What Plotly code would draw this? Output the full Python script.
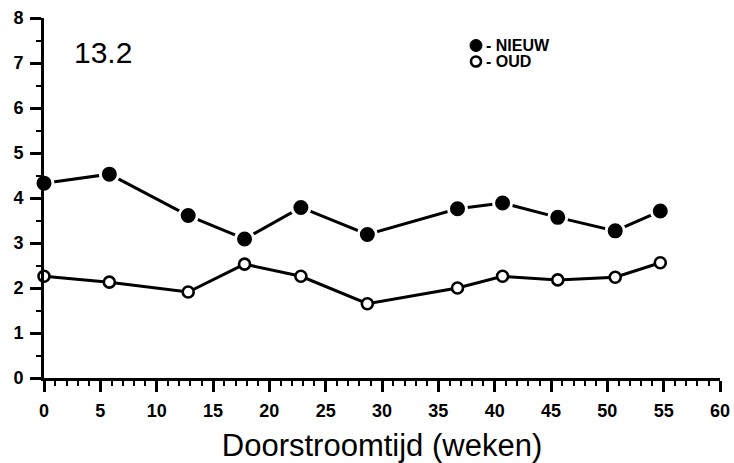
import plotly.graph_objects as go

weeks = [0, 5.8, 12.8, 17.8, 22.8, 28.7, 36.7, 40.7, 45.6, 50.7, 54.7]
nieuw = [4.33, 4.53, 3.61, 3.09, 3.79, 3.19, 3.76, 3.89, 3.57, 3.27, 3.71]
oud = [2.26, 2.13, 1.91, 2.53, 2.26, 1.65, 2.0, 2.26, 2.18, 2.24, 2.56]
x_ticks = list(range(0, 61, 5))
y_ticks = list(range(0, 9))
panel_label = "13.2"
x_title = "Doorstroomtijd (weken)"
series_names = ["NIEUW", "OUD"]

FONT = "Liberation Sans, Arial, Helvetica, sans-serif"

fig = go.Figure()
fig.add_trace(go.Scatter(
    x=weeks, y=oud, mode="lines+markers", name=series_names[1],
    line=dict(color="black", width=3),
    marker=dict(symbol="circle", size=11, color="white",
                line=dict(color="black", width=2.6)),
    cliponaxis=False, showlegend=False,
))
fig.add_trace(go.Scatter(
    x=weeks, y=nieuw, mode="lines+markers", name=series_names[0],
    line=dict(color="black", width=3),
    marker=dict(symbol="circle", size=18, color="black",
                line=dict(color="white", width=3)),
    cliponaxis=False, showlegend=False,
))

axis_common = dict(
    showline=True, linecolor="black", linewidth=3,
    ticks="outside", tickcolor="black", tickwidth=2.5, ticklen=11,
    showgrid=False, zeroline=False, automargin=False,
    tickfont=dict(family=FONT, size=18, color="black", weight="bold"),
)
fig.update_xaxes(
    range=[0, 60], tickvals=x_ticks, ticktext=[str(v) for v in x_ticks],
    minor=dict(dtick=1, ticks="outside", ticklen=5, tickwidth=2, tickcolor="black"),
    title=dict(text=x_title, font=dict(family=FONT, size=31, color="black"), standoff=16),
    ticklabelstandoff=3,
    **axis_common,
)
fig.update_yaxes(
    range=[0, 8], tickvals=y_ticks, ticktext=[str(v) for v in y_ticks],
    minor=dict(dtick=0.5, ticks="outside", ticklen=5, tickwidth=2, tickcolor="black"),
    ticklabelstandoff=3,
    **axis_common,
)

# panel label
fig.add_annotation(text=panel_label, xref="paper", yref="paper",
                   x=(103 - 44) / 676, y=1 - (52 - 18) / 360,
                   xanchor="center", yanchor="middle", showarrow=False,
                   font=dict(family=FONT, size=30, color="black"))

# legend (custom, marker + dash + name)
leg_x = (476 - 44) / 676
leg_rows = [1 - (45.5 - 18) / 360, 1 - (61.5 - 18) / 360]
fig.add_shape(type="circle", xref="paper", yref="paper",
              xsizemode="pixel", ysizemode="pixel",
              xanchor=leg_x, yanchor=leg_rows[0],
              x0=-6, x1=6, y0=-6, y1=6,
              fillcolor="black", line=dict(color="black", width=1))
fig.add_shape(type="circle", xref="paper", yref="paper",
              xsizemode="pixel", ysizemode="pixel",
              xanchor=leg_x, yanchor=leg_rows[1],
              x0=-5, x1=5, y0=-5, y1=5,
              fillcolor="white", line=dict(color="black", width=2.6))
for name, yy in zip(series_names, leg_rows):
    fig.add_annotation(text="<b>- " + name + "</b>", xref="paper", yref="paper",
                       x=(484 - 44) / 676, y=yy, xanchor="left", yanchor="middle",
                       showarrow=False,
                       font=dict(family=FONT, size=16, color="black"))

fig.update_layout(
    width=734, height=463,
    margin=dict(l=44, r=14, t=18, b=85),
    paper_bgcolor="white", plot_bgcolor="white",
    font=dict(family=FONT, color="black"),
    showlegend=False,
)

fig.write_html("out.html", config={"displayModeBar": False},
               post_script="document.body.style.margin='0';document.body.style.overflow='hidden';")
